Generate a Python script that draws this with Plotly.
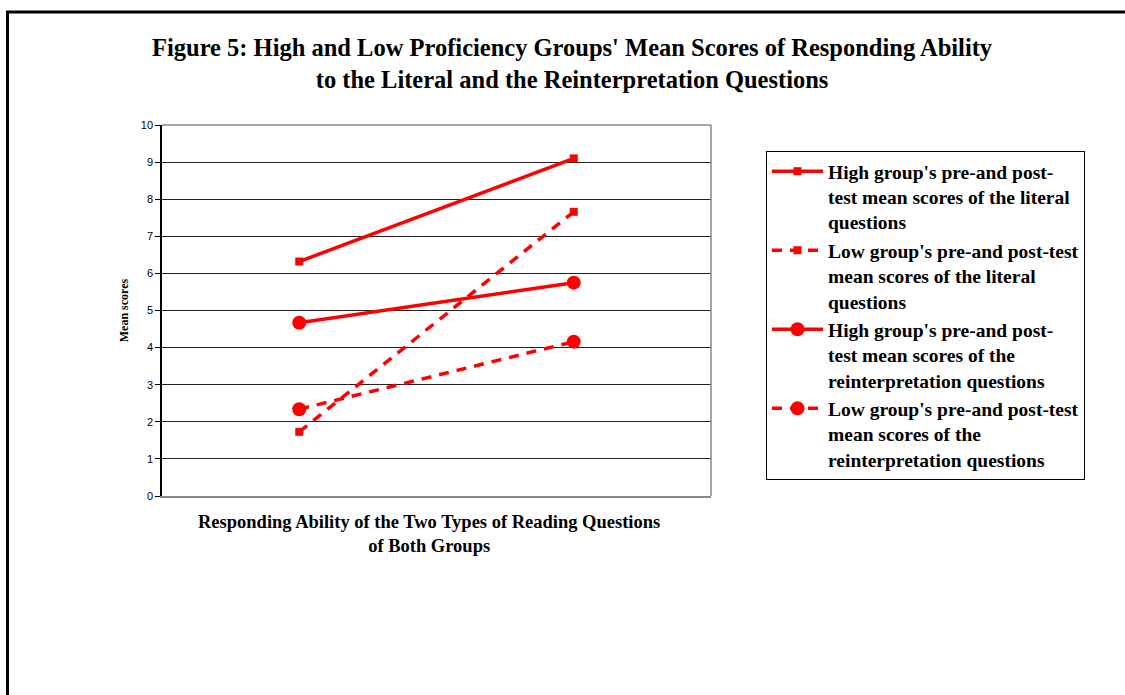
import plotly.graph_objects as go

# Test phases (category axis, labels not shown on the axis)
phases = ["Pre-test", "Post-test"]

# Mean scores per group and question type
high_literal = [6.32, 9.10]
low_literal = [1.73, 7.66]
high_reint = [4.67, 5.75]
low_reint = [2.34, 4.16]

series_names = [
    "High group's pre-and post-<br>test mean scores of the literal<br>questions",
    "Low group's pre-and post-test<br>mean scores of the literal<br>questions",
    "High group's pre-and post-<br>test mean scores of the<br>reinterpretation questions",
    "Low group's pre-and post-test<br>mean scores of the<br>reinterpretation questions",
]
y_ticks = list(range(0, 11))

RED = "#ff0000"
SERIF = "Liberation Serif, Times New Roman, serif"
SANS = "Liberation Sans, Arial, sans-serif"

# plot area geometry (pixels)
W, H = 1125, 695
L, R, T, B = 162, 414, 125, 199
pw, ph = W - L - R, H - T - B


def px_x(x):
    return (x - L) / pw


def px_y(y):
    return (H - B - y) / ph


fig = go.Figure()

styles = [
    (high_literal, "solid", "square", 8),
    (low_literal, "10px,8px", "square", 8),
    (high_reint, "solid", "circle", 14),
    (low_reint, "10px,8px", "circle", 14),
]
for (vals, dash, sym, size), name in zip(styles, series_names):
    fig.add_trace(go.Scatter(
        x=phases, y=vals, name=name, mode="lines+markers",
        line=dict(color=RED, width=3.5, dash=dash),
        marker=dict(symbol=sym, size=size, color=RED),
    ))

fig.update_layout(
    width=W, height=H,
    margin=dict(l=L, r=R, t=T, b=B),
    paper_bgcolor="white", plot_bgcolor="white",
    showlegend=True,
    legend=dict(
        x=px_x(766), y=px_y(151), xanchor="left", yanchor="top",
        bordercolor="black", borderwidth=1, bgcolor="white",
        font=dict(family=SERIF, size=19.5, color="black", weight="bold"),
        tracegroupgap=0, itemwidth=51, valign="top",
    ),
    xaxis=dict(
        type="category", range=[-0.5, 1.5], showticklabels=False,
        showgrid=False, showline=True, linecolor="#888888", linewidth=1.5,
        mirror=False, ticks="", zeroline=False,
    ),
    yaxis=dict(
        range=[0, 10], tickvals=y_ticks, ticktext=[str(v) for v in y_ticks],
        showgrid=True, gridcolor="#222222", gridwidth=1,
        showline=True, linecolor="black", linewidth=1.5,
        ticks="outside", ticklen=5, tickcolor="black", tickwidth=1,
        tickfont=dict(family=SANS, size=11, color="black"),
        zeroline=False,
        title=dict(text="Mean scores", standoff=10,
                   font=dict(family=SERIF, size=12, color="black", weight="bold")),
    ),
)

# right and top edges of the plot area
fig.add_shape(type="line", xref="paper", yref="paper", x0=1, x1=1, y0=0, y1=1,
              line=dict(color="#888888", width=1.5))
fig.add_shape(type="line", xref="paper", yref="paper", x0=0, x1=1, y0=1, y1=1,
              line=dict(color="#888888", width=1.5))

# outer frame running off the right and bottom of the page
fig.add_shape(type="rect", xref="paper", yref="paper",
              x0=px_x(7.5), x1=px_x(W + 20), y0=px_y(H + 20), y1=px_y(12),
              line=dict(color="black", width=3), fillcolor="rgba(0,0,0,0)", layer="above")

# chart title
fig.add_annotation(
    xref="paper", yref="paper", x=px_x(572), y=px_y(64),
    xanchor="center", yanchor="middle", showarrow=False,
    text="Figure 5: High and Low Proficiency Groups' Mean Scores of Responding Ability<br>"
         "to the Literal and the Reinterpretation Questions",
    font=dict(family=SERIF, size=24.5, color="black", weight="bold"),
)

# category axis title
fig.add_annotation(
    xref="paper", yref="paper", x=px_x(429), y=px_y(534),
    xanchor="center", yanchor="middle", showarrow=False,
    text="Responding Ability of the Two Types of Reading Questions<br>of Both Groups",
    font=dict(family=SERIF, size=18.5, color="black", weight="bold"),
)

fig.write_html("out.html")
